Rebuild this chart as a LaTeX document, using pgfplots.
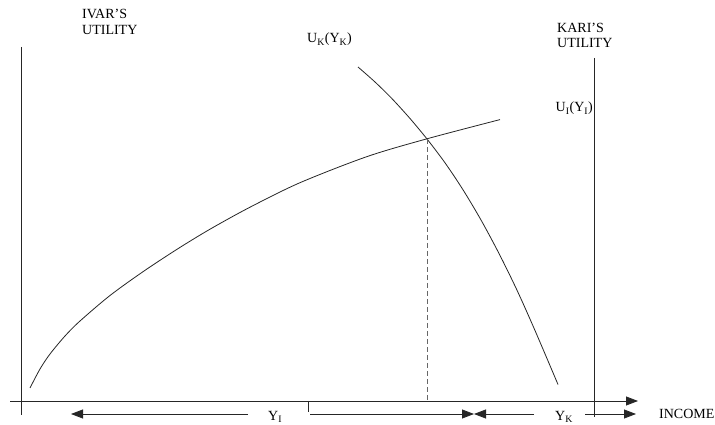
\documentclass[border=0pt]{standalone}
\usepackage{fontspec}
\setmainfont{Liberation Serif}
\usepackage{pgfplots}
\pgfplotsset{compat=1.18}
\usetikzlibrary{arrows.meta}

\tikzset{
  ln/.style={draw=black!85, line width=0.8bp},
  arr/.style={ln, -{Triangle[length=12bp,width=9bp]}},
  lab/.style={font=\fontsize{14bp}{16bp}\selectfont, inner sep=0pt},
}

\begin{document}
\begin{tikzpicture}
\begin{axis}[
    scale only axis,
    width=715bp, height=425bp,
    xmin=0, xmax=715, ymin=0, ymax=425,
    hide axis, clip=false,
    ]
% keeps the page the size of the reference
\addplot[draw=none] coordinates {(0,0) (715,425)};

% axes
\addplot[arr] coordinates {(10,24) (638,24)};
\addplot[ln] coordinates {(21,378) (21,10)};
\addplot[ln] coordinates {(594,367) (594,8)};
\addplot[ln] coordinates {(308,24) (308,13)};

% Ivar's utility
\addplot[ln, smooth] coordinates {
  (30,37) (40,56) (50,71) (65,89) (80,104) (110,129.5) (143,153.3)
  (177,175.7) (210,195.8) (250,217.8) (300,242.3) (367,268.4)
  (427,286.2) (500,305.4)};

% Kari's utility
\addplot[ln, smooth] coordinates {
  (358,358) (375,343) (392,326.3) (410,306.5) (427,286) (445,262.2)
  (463,235.2) (481,205) (499,171.5) (517,134.8) (535,94.5) (558,40.5)};

% dashed drop line
\addplot[draw=black!60, line width=0.8bp, dash pattern=on 5bp off 3bp]
  coordinates {(427,286) (427,24)};

% income arrows
\addplot[arr] coordinates {(248,11) (71,11)};
\addplot[arr] coordinates {(310,11) (474,11)};
\addplot[arr] coordinates {(534,11) (474,11)};
\addplot[arr] coordinates {(585,11) (636,11)};

% labels
\node[lab, anchor=base west] at (axis cs:82,406) {IVAR’S};
\node[lab, anchor=base west] at (axis cs:82,390) {UTILITY};
\node[lab, anchor=base west] at (axis cs:557,392) {KARI’S};
\node[lab, anchor=base west] at (axis cs:557,377) {UTILITY};
\node[lab, anchor=base west] at (axis cs:307,382) {U\textsubscript{K}(Y\textsubscript{K})};
\node[lab, anchor=base east] at (axis cs:593,313) {U\textsubscript{I}(Y\textsubscript{I})};
\node[lab, anchor=base west] at (axis cs:268,5) {Y\textsubscript{I}};
\node[lab, anchor=base west] at (axis cs:555,5) {Y\textsubscript{K}};
\node[lab, anchor=base west] at (axis cs:659,7) {INCOME};
\end{axis}
\end{tikzpicture}
\end{document}
